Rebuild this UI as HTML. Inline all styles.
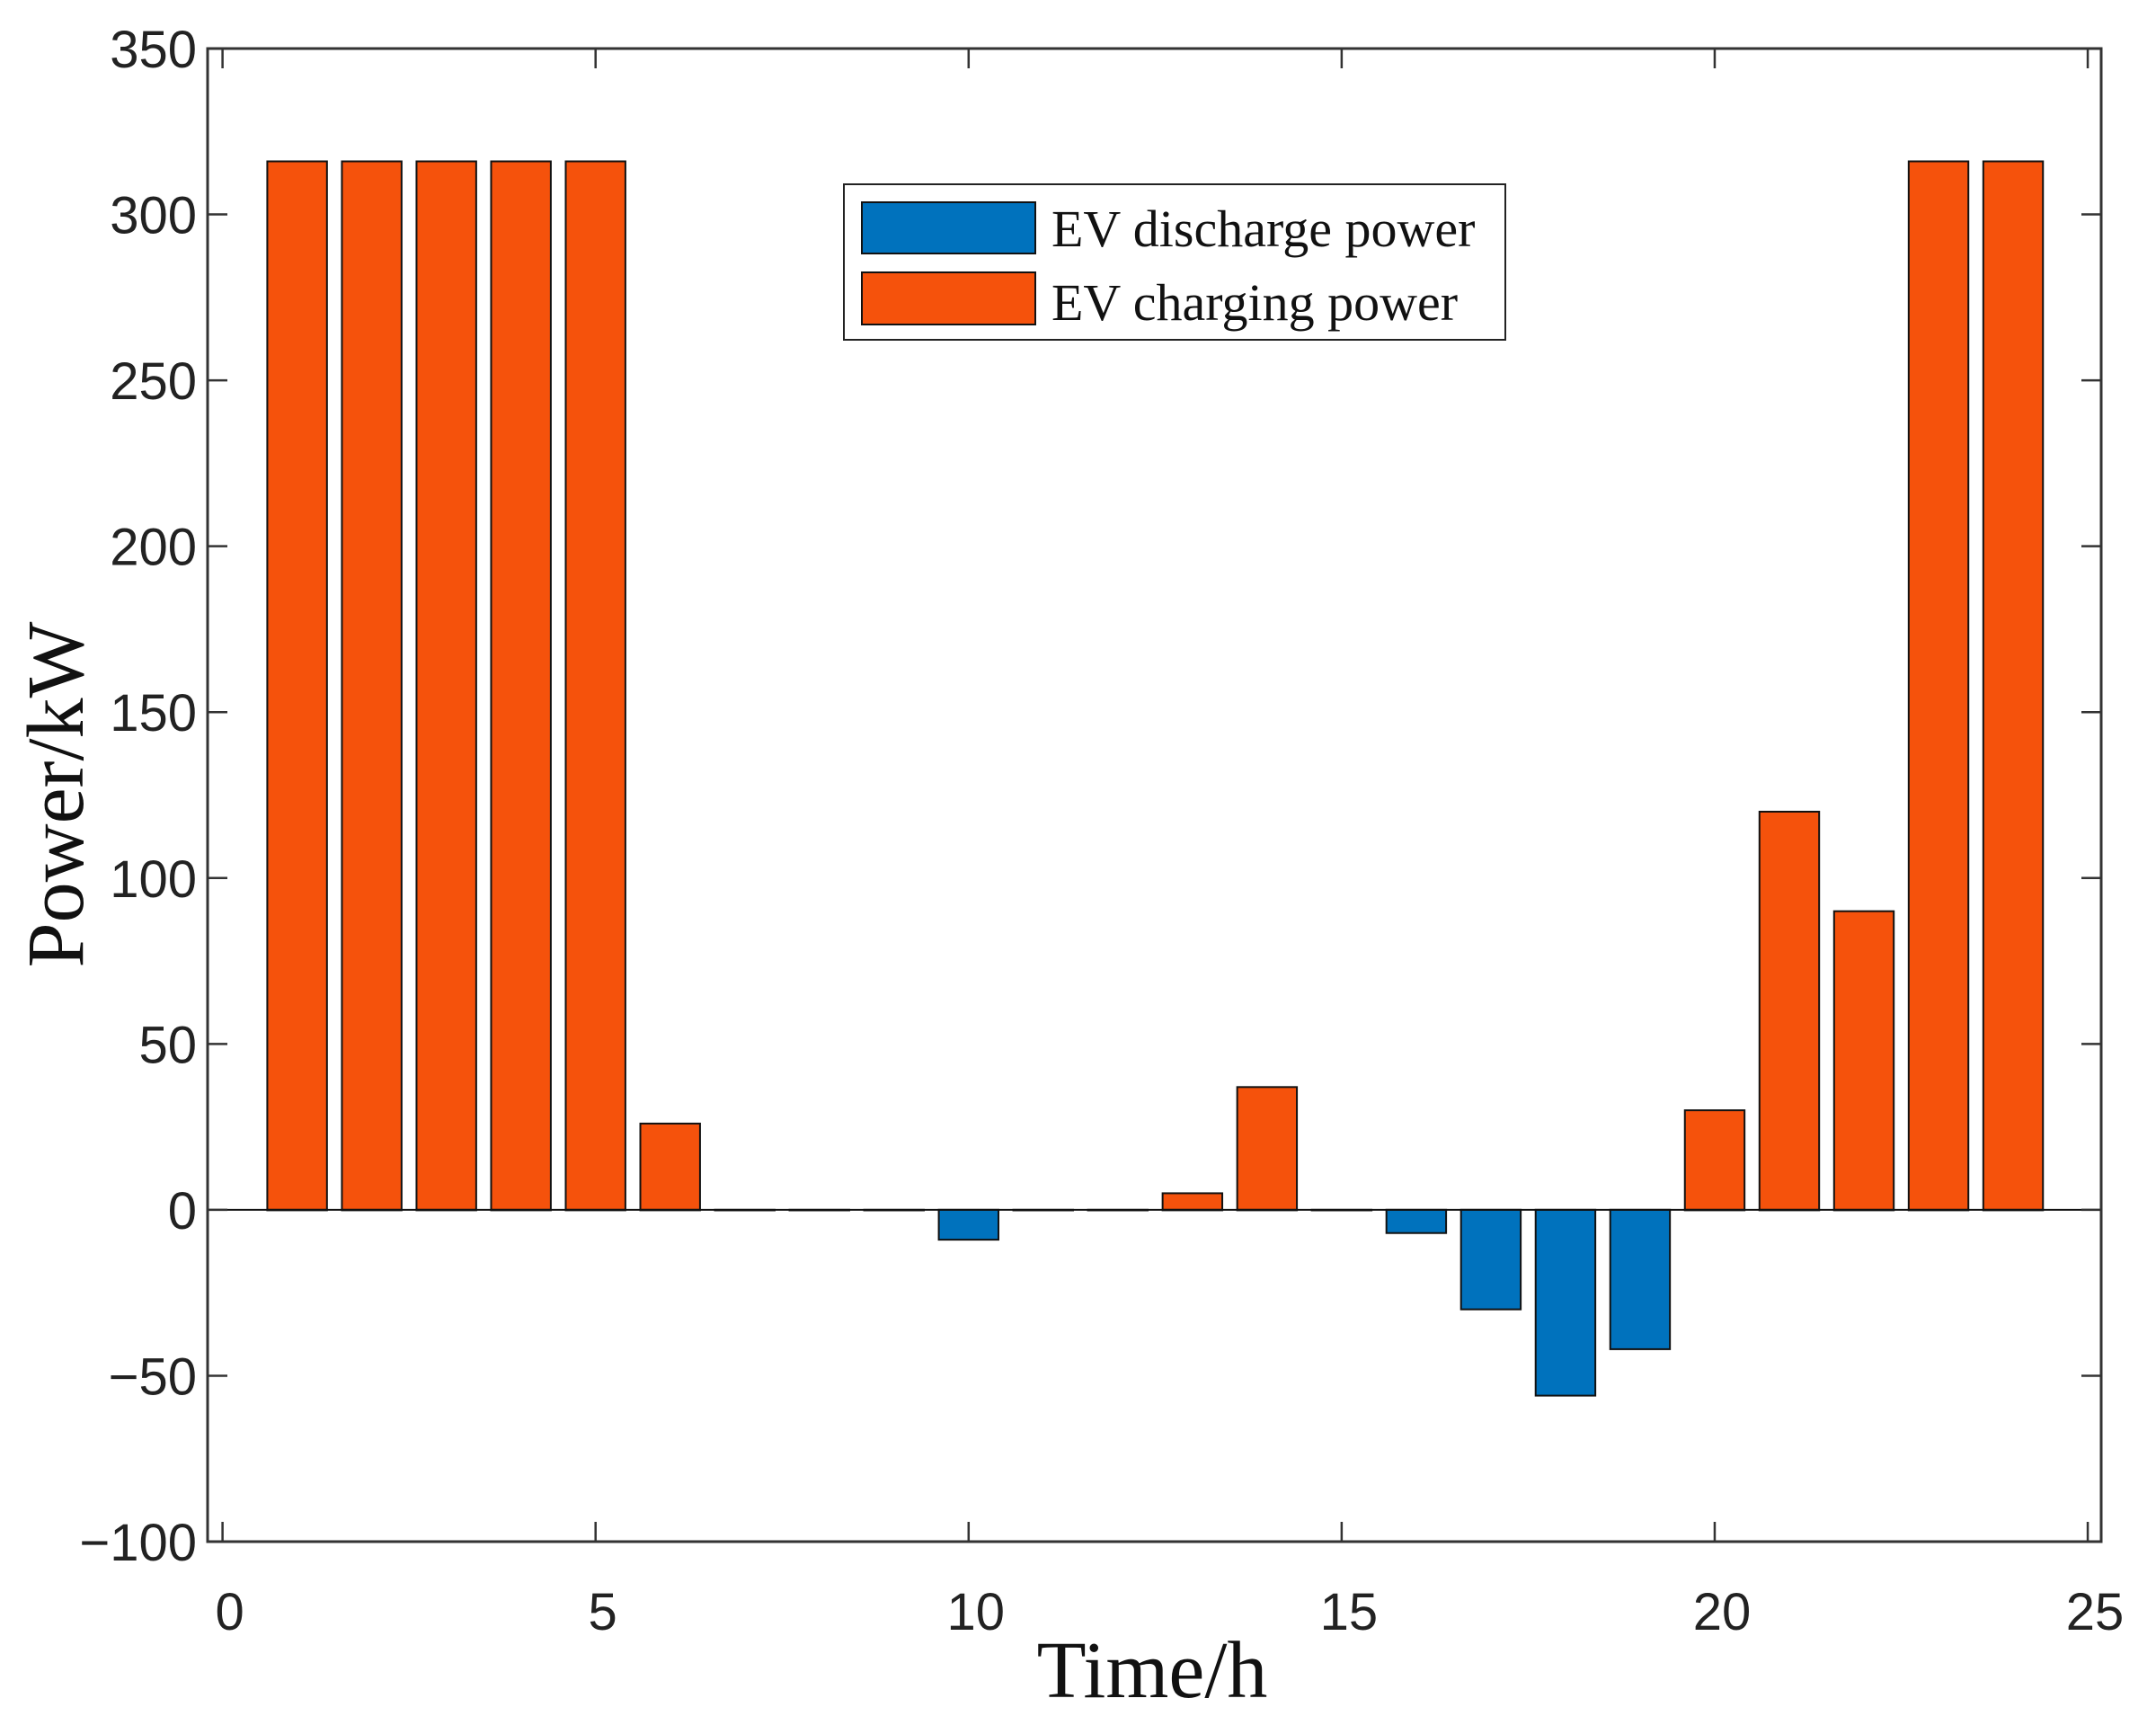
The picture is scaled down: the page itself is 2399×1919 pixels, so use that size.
<!DOCTYPE html>
<html><head><meta charset="utf-8"><style>
html,body{margin:0;padding:0;background:#fff;}
svg{display:block;}
</style></head><body>
<svg id="chart" width="2399" height="1919" viewBox="0 0 2399 1919" xmlns="http://www.w3.org/2000/svg">
<rect x="0" y="0" width="2399" height="1919" fill="#fff"/>
<g id="bars"></g>
<g id="axes"></g>
<g id="legend">
  <rect x="939" y="205" width="736" height="173" fill="#fff" stroke="#222" stroke-width="2"/>
  <rect x="959" y="225" width="193" height="57" fill="#0072BD" stroke="#111" stroke-width="2"/>
  <text x="1170" y="274" font-family="Liberation Serif, serif" font-size="58" fill="#111">EV discharge power</text>
  <rect x="959" y="303" width="193" height="58" fill="#F5520C" stroke="#111" stroke-width="2"/>
  <text x="1170" y="356" font-family="Liberation Serif, serif" font-size="58" fill="#111">EV charging power</text>
</g>
<text x="1282" y="1888" text-anchor="middle" font-family="Liberation Serif, serif" font-size="90" fill="#111">Time/h</text>
<text transform="translate(92,884) rotate(-90)" text-anchor="middle" font-family="Liberation Serif, serif" font-size="90" fill="#111">Power/kW</text>
</svg>
<script>
const hours = [1,2,3,4,5,6,7,8,9,10,11,12,13,14,15,16,17,18,19,20,21,22,23,24];
const chargingPower = [316,316,316,316,316,26,0,0,0,0,0,0,5,37,0,0,0,0,0,30,120,90,316,316];
const dischargePower = [0,0,0,0,0,0,0,0,0,-9,0,0,0,0,0,-7,-30,-56,-42,0,0,0,0,0];
const xTicks = [0,5,10,15,20,25];
const yTicks = [-100,-50,0,50,100,150,200,250,300,350];

const L=231,R=2338,T=54,B=1715;
const xMin=-0.2,xMax=25.18,yMin=-100,yMax=350;
function xs(v){return L+(v-xMin)/(xMax-xMin)*(R-L);}
function ys(v){return B-(v-yMin)/(yMax-yMin)*(B-T);}
const NS='http://www.w3.org/2000/svg';
const bars=document.getElementById('bars');
const axes=document.getElementById('axes');
function mk(tag,attrs,parent){const e=document.createElementNS(NS,tag);for(const k in attrs)e.setAttribute(k,attrs[k]);parent.appendChild(e);return e;}

const bw=0.8;
hours.forEach((h,i)=>{
  [[chargingPower[i],'#F5520C','charging'],[dischargePower[i],'#0072BD','discharge']].forEach(([v,c,n])=>{
    const x0=xs(h-bw/2),x1=xs(h+bw/2);
    const y0=ys(Math.max(v,0)),y1=ys(Math.min(v,0));
    const r=mk('rect',{x:x0,y:y0,width:x1-x0,height:Math.max(y1-y0,0.5),fill:c,stroke:'#111','stroke-width':2},bars);
    
    
  });
});
const zl=mk('line',{x1:L,x2:R,y1:ys(0),y2:ys(0),stroke:'#111','stroke-width':2},axes);


const box=mk('rect',{x:L,y:T,width:R-L,height:B-T,fill:'none',stroke:'#333','stroke-width':3},axes);


xTicks.forEach(t=>{
  const x=xs(t);
  mk('line',{x1:x,x2:x,y1:B,y2:B-22,stroke:'#333','stroke-width':2.5},axes);
  mk('line',{x1:x,x2:x,y1:T,y2:T+22,stroke:'#333','stroke-width':2.5},axes);
  const tx=mk('text',{x:x+8,y:1813,'text-anchor':'middle','font-family':'Liberation Sans, sans-serif','font-size':58,fill:'#222'},axes);
  tx.textContent=t;
  
  
});
yTicks.forEach(t=>{
  const y=ys(t);
  mk('line',{x1:L,x2:L+22,y1:y,y2:y,stroke:'#333','stroke-width':2.5},axes);
  mk('line',{x1:R,x2:R-22,y1:y,y2:y,stroke:'#333','stroke-width':2.5},axes);
  const tx=mk('text',{x:219,y:y+21,'text-anchor':'end','font-family':'Liberation Sans, sans-serif','font-size':58,fill:'#222'},axes);
  tx.textContent=t<0?'\u2212'+Math.abs(t):t;
  
  
});
</script>
</body></html>
